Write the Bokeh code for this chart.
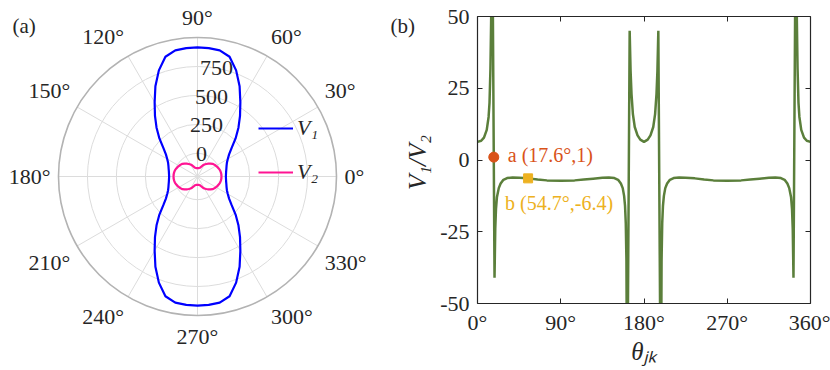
import numpy as np
from bokeh.plotting import figure
from bokeh.models import Range1d, FixedTicker, LinearAxis, Legend, LegendItem
from bokeh.layouts import row
from bokeh.embed import file_html
from bokeh.resources import INLINE
from bokeh.core.properties import value

# ---------------- data ----------------
# panel (a): polar curves, sampled every 5 degrees
theta_polar = list(range(0, 360, 5))
V1 = [45, 47, 51, 58, 67, 80, 102, 133, 185, 265, 350, 440, 540, 660, 775, 870, 905, 913, 915,
      913, 905, 870, 775, 660, 540, 440, 350, 265, 185, 133, 102, 80, 67, 58, 51, 47, 45,
      47, 51, 58, 67, 80, 102, 133, 185, 265, 350, 440, 540, 660, 775, 870, 905, 913, 915,
      913, 905, 870, 775, 660, 540, 440, 350, 265, 185, 133, 102, 80, 67, 58, 51, 47]
V2 = [7, 7, 5, 2, -3.5, -9.2, -16, -21.5, -30, -42, -55, -68, -81, -96, -111, -122, -126, -127, -127,
      -127, -126, -122, -111, -96, -81, -68, -55, -42, -30, -21.5, -16, -9.2, -3.5, 2, 5, 7, 7,
      7, 5, 2, -3.5, -9.2, -16, -21.5, -30, -42, -55, -68, -81, -96, -111, -122, -126, -127, -127,
      -127, -126, -122, -111, -96, -81, -68, -55, -42, -30, -21.5, -16, -9.2, -3.5, 2, 5, 7]
r_ticks = [0, 250, 500, 750]
r_min, r_max = -200, 1000
angle_ticks = list(range(0, 360, 30))

# panel (b): V1/V2 versus theta_jk
theta_b = [0, 4, 7, 10, 12, 13, 14, 14.8, 15.5, 16.6, 18.4, 19.2, 20, 21, 23, 25, 28, 32, 38, 45,
           54.7, 65, 75, 90, 105, 115, 125, 135, 142, 148, 152, 155, 157, 158.5, 159.5, 160.3,
           161.0, 161.8, 164.5, 165.5, 166.5, 168, 170, 173, 176, 180,
           184, 187, 190, 192, 193.5, 194.5, 195.5, 198.2, 199.0, 199.7, 200.5, 201.5, 203, 205,
           208, 212, 218, 225, 235, 245, 255, 270, 285, 295, 305, 315, 322, 328, 332, 335, 337,
           339, 340, 340.8, 341.6, 343.4, 344.5, 345.2, 346, 347, 348, 350, 353, 356, 360]
ratio_b = [6.3, 6.7, 7.8, 10.5, 15, 20, 32, 50, 90, 53, -41, -24, -17, -13, -9.8, -8.2, -6.9, -6.3, -6.1, -6.2,
           -6.4, -6.8, -7.1, -7.2, -7.1, -6.8, -6.5, -6.2, -6.1, -6.3, -6.9, -8.2, -9.8, -12.5, -16, -22,
           -35, -95, 45, 31, 23, 16, 11.5, 8.6, 7.1, 6.3,
           7.1, 8.6, 11.5, 16, 23, 31, 45, -95, -35, -22, -16, -12.5, -9.8, -8.2,
           -6.9, -6.3, -6.1, -6.2, -6.4, -6.8, -7.1, -7.2, -7.1, -6.8, -6.5, -6.2, -6.1, -6.3, -6.9, -8.2, -9.8,
           -13, -17, -24, -41, 53, 90, 50, 32, 20, 15, 10.5, 7.8, 6.7, 6.3]
x_ticks_b = [0, 90, 180, 270, 360]
y_ticks_b = [-50, -25, 0, 25, 50]
point_a = (17.6, 1.0)
point_b = (54.7, -6.4)

FONT = "Liberation Serif"
TXT = "#262626"
H = 370

# ---------------- panel (a) ----------------
WA = 432
cx, cy = 197, 176           # centre of the polar axes in canvas px
R_px = 139.0                # outer radius in px
s = R_px / (r_max - r_min)  # px per r-unit


def A(px, py):
    """canvas pixel -> data coordinate of panel (a)"""
    return (px - cx) / s, (cy - py) / s


pa = figure(width=WA, height=H, x_range=Range1d(-cx / s, (WA - cx) / s),
            y_range=Range1d(-(H - cy) / s, cy / s),
            x_axis_location=None, y_axis_location=None, toolbar_location=None,
            output_backend="svg", min_border=0, outline_line_color=None)
pa.frame_align = False
pa.grid.visible = False

ring_r = [t - r_min for t in r_ticks]
pa.circle(x=[0] * len(ring_r), y=[0] * len(ring_r), radius=ring_r, fill_color=None,
          line_color="#dcdcdc", line_width=1)
sp_x = [[0, (r_max - r_min) * np.cos(np.deg2rad(a))] for a in angle_ticks]
sp_y = [[0, (r_max - r_min) * np.sin(np.deg2rad(a))] for a in angle_ticks]
pa.multi_line(sp_x, sp_y, line_color="#dcdcdc", line_width=1)
pa.circle(x=[0], y=[0], radius=[r_max - r_min], fill_color=None, line_color="#b3b3b3", line_width=1.6)

th = np.deg2rad(np.array(theta_polar + [360]))
r1 = np.array(V1 + [V1[0]]) - r_min
r2 = np.array(V2 + [V2[0]]) - r_min
l1 = pa.line(r1 * np.cos(th), r1 * np.sin(th), line_color="#0000FF", line_width=2.2)
l2 = pa.line(r2 * np.cos(th), r2 * np.sin(th), line_color="#FF1493", line_width=2.2)

# radial tick labels along 80 degrees
ra = np.deg2rad(80)
pa.text(x=[r * np.cos(ra) for r in ring_r], y=[r * np.sin(ra) for r in ring_r],
        text=[str(t) for t in r_ticks], text_align="center", text_baseline="middle",
        text_font=value(FONT), text_font_size="22px", text_color=TXT)

# angle labels
Rl = 147 / s
ax, ay, al, ab = [], [], [], []
for a in angle_ticks:
    c, sn = np.cos(np.deg2rad(a)), np.sin(np.deg2rad(a))
    ax.append(Rl * c)
    ay.append(Rl * sn)
    al.append("left" if c > 0.1 else ("right" if c < -0.1 else "center"))
    ab.append("bottom" if sn > 0.1 else ("top" if sn < -0.1 else "middle"))
pa.text(x=ax, y=ay, text=[f"{a}°" for a in angle_ticks], text_align=al, text_baseline=ab,
        text_font=value(FONT), text_font_size="22px", text_color=TXT)

leg = Legend(items=[LegendItem(label="V₁", renderers=[l1]), LegendItem(label="V₂", renderers=[l2])],
             location=(258, 185), padding=0, margin=0, spacing=18, glyph_width=35,
             label_standoff=4, background_fill_alpha=0, border_line_color=None,
             label_text_font=FONT, label_text_font_size="22px", label_text_font_style="italic",
             label_text_color=TXT)
pa.add_layout(leg)

# panel letters and the y-axis title of panel (b) (placed in the same canvas row)
pa_x, pa_y = A(12, 25)
pb_x, pb_y = A(390, 25)
pa.text(x=[pa_x, pb_x], y=[pa_y, pb_y], text=["(a)", "(b)"], text_align="left", text_baseline="middle",
        text_font=value(FONT), text_font_size="21px", text_color=TXT)
yl_x, yl_y = A(417, 162)
pa.text(x=[yl_x], y=[yl_y], text=["V₁/V₂"], angle=np.pi / 2, text_align="center", text_baseline="middle",
        text_font=value(FONT), text_font_size="25px", text_font_style="italic", text_color=TXT)

# ---------------- panel (b) ----------------
WB = 830 - WA
frame_left, frame_right, frame_top, frame_bottom = 477, 810, 16, 303
pb = figure(width=WB, height=H, x_range=Range1d(0, 360), y_range=Range1d(-50, 50),
            min_border_left=frame_left - WA, min_border_right=830 - frame_right,
            min_border_top=frame_top, min_border_bottom=H - frame_bottom,
            toolbar_location=None, output_backend="svg", outline_line_color=None)
pb.frame_align = False
pb.grid.visible = False
pb.add_layout(LinearAxis(), "right")
pb.add_layout(LinearAxis(), "above")

for axis in pb.xaxis:
    axis.ticker = FixedTicker(ticks=x_ticks_b)
    axis.major_label_overrides = {t: f"{t}°" for t in x_ticks_b}
for axis in pb.yaxis:
    axis.ticker = FixedTicker(ticks=y_ticks_b)
    axis.major_label_overrides = {t: str(t) for t in y_ticks_b}
for axis in pb.axis:
    axis.axis_line_color = TXT
    axis.axis_line_width = 1.2
    axis.major_tick_line_color = TXT
    axis.major_tick_in = 5
    axis.major_tick_out = 0
    axis.minor_tick_line_color = None
    axis.major_label_text_font = FONT
    axis.major_label_text_font_size = "22px"
    axis.major_label_text_color = TXT
    axis.major_label_standoff = 8
pb.below[0].major_label_standoff = 6
for axis in (pb.right[0], pb.above[0]):
    axis.major_label_text_font_size = "1px"
    axis.major_label_text_color = None
    axis.major_label_standoff = 0

pb.below[0].axis_label = "θⱼₖ"
pb.below[0].axis_label_text_font = FONT
pb.below[0].axis_label_text_font_size = "25px"
pb.below[0].axis_label_text_font_style = "italic"
pb.below[0].axis_label_text_color = TXT
pb.below[0].axis_label_standoff = 0

pb.line(theta_b, ratio_b, line_color="#5B7F3B", line_width=2.5)
pb.scatter([point_a[0]], [point_a[1]], marker="circle", size=10, color="#D95319")
pb.scatter([point_b[0]], [point_b[1]], marker="square", size=9, color="#EDB120")
pb.text(x=[point_a[0]], y=[point_a[1]], text=[f"a ({point_a[0]}°,{point_a[1]:g})"], x_offset=14, y_offset=-2,
        text_align="left", text_baseline="middle", text_color="#D95319",
        text_font=value(FONT), text_font_size="20px")
pb.text(x=[point_b[0]], y=[point_b[1]], text=[f"b ({point_b[0]}°,{point_b[1]:g})"], x_offset=-23, y_offset=25,
        text_align="left", text_baseline="middle", text_color="#EDB120",
        text_font=value(FONT), text_font_size="20px")

layout = row(pa, pb)
open("out.html", "w").write(file_html(layout, INLINE))
